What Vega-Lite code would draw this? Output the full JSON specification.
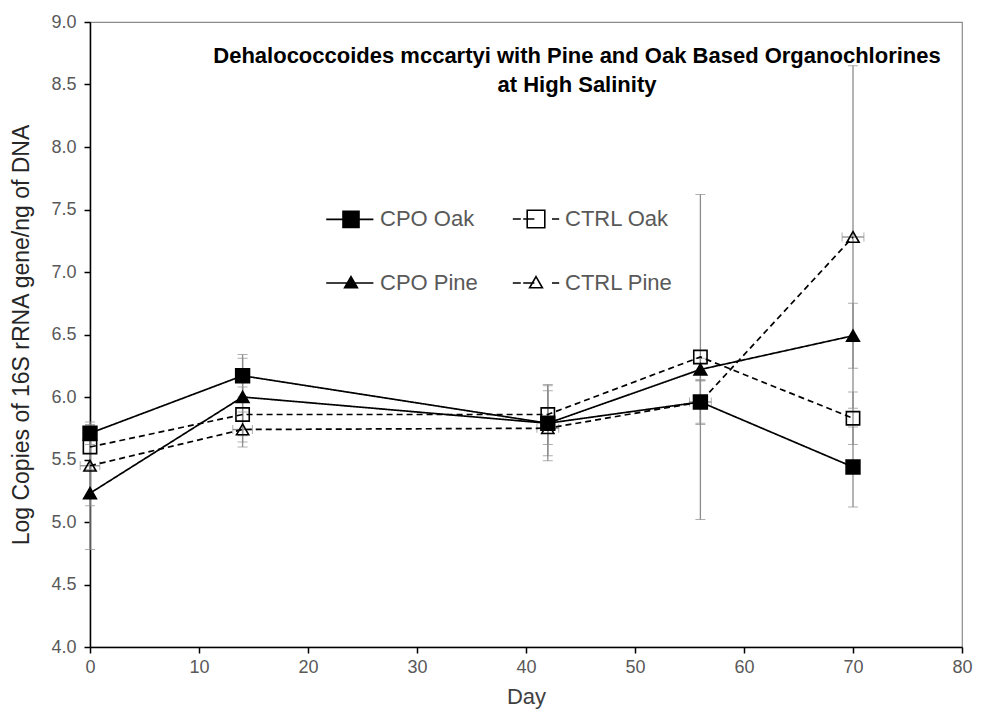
{
  "$schema": "https://vega.github.io/schema/vega-lite/v6.json",
  "width": 872,
  "height": 625,
  "autosize": "none",
  "padding": {"left": 90, "top": 22, "right": 19, "bottom": 70},
  "background": "white",
  "config": {
    "font": "Liberation Sans",
    "view": {"stroke": "#8c8c8c", "strokeWidth": 1.2}
  },
  "title": {
    "text": ["Dehalococcoides mccartyi with Pine and Oak Based Organochlorines", "at High Salinity"],
    "font": "Liberation Sans",
    "fontSize": 22,
    "fontWeight": "bold",
    "color": "#000000",
    "anchor": "middle",
    "baseline": "top",
    "lineHeight": 29,
    "dx": 51,
    "offset": -84
  },
  "data": {
    "values": [
      {"series": "CPO Oak", "day": 0, "value": 5.71, "lo": 5.62, "hi": 5.80},
      {"series": "CPO Oak", "day": 14, "value": 6.17, "lo": 6.00, "hi": 6.34},
      {"series": "CPO Oak", "day": 42, "value": 5.79, "lo": 5.49, "hi": 6.09},
      {"series": "CPO Oak", "day": 56, "value": 5.96, "lo": 5.78, "hi": 6.14},
      {"series": "CPO Oak", "day": 70, "value": 5.44, "lo": 5.12, "hi": 5.76},
      {"series": "CTRL Oak", "day": 0, "value": 5.60, "lo": 5.42, "hi": 5.78},
      {"series": "CTRL Oak", "day": 14, "value": 5.86, "lo": 5.64, "hi": 6.08},
      {"series": "CTRL Oak", "day": 42, "value": 5.86, "lo": 5.62, "hi": 6.10},
      {"series": "CTRL Oak", "day": 56, "value": 6.32, "lo": 5.02, "hi": 7.62},
      {"series": "CTRL Oak", "day": 70, "value": 5.83, "lo": 5.62, "hi": 6.04},
      {"series": "CPO Pine", "day": 0, "value": 5.23, "lo": 4.78, "hi": 5.68},
      {"series": "CPO Pine", "day": 14, "value": 6.00, "lo": 5.69, "hi": 6.31},
      {"series": "CPO Pine", "day": 42, "value": 5.79, "lo": 5.53, "hi": 6.05},
      {"series": "CPO Pine", "day": 56, "value": 6.22, "lo": 6.13, "hi": 6.31},
      {"series": "CPO Pine", "day": 70, "value": 6.49, "lo": 6.23, "hi": 6.75},
      {"series": "CTRL Pine", "day": 0, "value": 5.45, "lo": 5.13, "hi": 5.77, "dlo": -0.9, "dhi": 0.9},
      {"series": "CTRL Pine", "day": 14, "value": 5.74, "lo": 5.60, "hi": 5.88, "dlo": 13.1, "dhi": 14.9},
      {"series": "CTRL Pine", "day": 42, "value": 5.75, "lo": 5.71, "hi": 5.79, "dlo": 41.0, "dhi": 43.0},
      {"series": "CTRL Pine", "day": 56, "value": 5.96, "lo": 5.79, "hi": 6.13, "dlo": 55.0, "dhi": 57.0},
      {"series": "CTRL Pine", "day": 70, "value": 7.28, "lo": 5.91, "hi": 8.65, "dlo": 69.0, "dhi": 71.0}
    ]
  },
  "layer": [
    {
      "mark": {"type": "errorbar", "ticks": {"size": 10, "color": "#8c8c8c", "strokeWidth": 1.3}, "rule": {"color": "#8c8c8c", "strokeWidth": 1.3}},
      "encoding": {
        "x": {"field": "day", "type": "quantitative"},
        "y": {"field": "lo", "type": "quantitative"},
        "y2": {"field": "hi"}
      }
    },
    {
      "transform": [{"filter": "isValid(datum.dlo)"}],
      "mark": {"type": "errorbar", "ticks": {"size": 9, "color": "#8c8c8c", "strokeWidth": 1.3}, "rule": {"color": "#8c8c8c", "strokeWidth": 1.3}},
      "encoding": {
        "y": {"field": "value", "type": "quantitative"},
        "x": {"field": "dlo", "type": "quantitative"},
        "x2": {"field": "dhi"}
      }
    },
    {
      "mark": {"type": "line", "color": "black", "strokeWidth": 1.7},
      "encoding": {
        "x": {"field": "day", "type": "quantitative"},
        "y": {"field": "value", "type": "quantitative"},
        "strokeDash": {
          "field": "series", "type": "nominal",
          "scale": {"domain": ["CPO Oak", "CTRL Oak", "CPO Pine", "CTRL Pine"], "range": [[1, 0], [6, 4], [1, 0], [6, 4]]},
          "legend": null
        }
      }
    },
    {
      "mark": {"type": "point", "filled": true, "stroke": "black", "strokeWidth": 1.6, "opacity": 1},
      "encoding": {
        "x": {"field": "day", "type": "quantitative"},
        "y": {"field": "value", "type": "quantitative"},
        "shape": {
          "field": "series", "type": "nominal",
          "scale": {"domain": ["CPO Oak", "CTRL Oak", "CPO Pine", "CTRL Pine"], "range": ["square", "square", "triangle-up", "triangle-up"]},
          "legend": null
        },
        "size": {
          "field": "series", "type": "nominal",
          "scale": {"domain": ["CPO Oak", "CTRL Oak", "CPO Pine", "CTRL Pine"], "range": [190, 150, 175, 150]},
          "legend": null
        },
        "fill": {
          "field": "series", "type": "nominal",
          "scale": {"domain": ["CPO Oak", "CTRL Oak", "CPO Pine", "CTRL Pine"], "range": ["black", "transparent", "black", "transparent"]},
          "legend": null
        }
      }
    },
    {
      "mark": {"type": "point", "filled": true, "stroke": "black", "strokeWidth": 1.6, "opacity": 0},
      "encoding": {
        "x": {"field": "day", "type": "quantitative"},
        "y": {"field": "value", "type": "quantitative"},
        "shape": {
          "field": "series", "type": "nominal",
          "scale": {
            "domain": ["CPO Oak", "CTRL Oak", "CPO Pine", "CTRL Pine"],
            "range": [
              "M-3.1,0H2.8M-1,-1H1V1H-1Z",
              "M-2.9,0H-1.9M-1.6,0H-0.2M2.0,0H2.9M-1.1,-1.1H1.1V1.1H-1.1Z",
              "M-3.1,0H2.8M0,-0.8L0.8,0.6H-0.8Z",
              "M-2.9,0H-1.9M-1.6,0H-0.2M2.0,0H2.9M0,-0.8L0.8,0.6H-0.8Z"
            ]
          },
          "legend": {
            "orient": "none",
            "legendX": 250,
            "legendY": 186,
            "title": null,
            "direction": "horizontal",
            "columns": 2,
            "columnPadding": 31,
            "rowPadding": 41,
            "symbolSize": 256,
            "symbolOpacity": 1,
            "symbolStrokeColor": "black",
            "symbolStrokeWidth": 1.6,
            "labelFont": "Liberation Sans",
            "labelFontSize": 22,
            "labelColor": "#595959",
            "labelOffset": 18,
            "labelLimit": 300,
            "encode": {"symbols": {"update": {"stroke": {"value": "black"}, "strokeWidth": {"value": 1.6}, "opacity": {"value": 1}}}}
          }
        },
        "fill": {
          "field": "series", "type": "nominal",
          "scale": {"domain": ["CPO Oak", "CTRL Oak", "CPO Pine", "CTRL Pine"], "range": ["black", "white", "black", "white"]},
          "legend": {
            "orient": "none",
            "legendX": 250,
            "legendY": 186,
            "title": null,
            "direction": "horizontal",
            "columns": 2,
            "columnPadding": 31,
            "rowPadding": 41,
            "symbolSize": 256,
            "symbolOpacity": 1,
            "symbolStrokeColor": "black",
            "symbolStrokeWidth": 1.6,
            "labelFont": "Liberation Sans",
            "labelFontSize": 22,
            "labelColor": "#595959",
            "labelOffset": 18,
            "labelLimit": 300,
            "encode": {"symbols": {"update": {"stroke": {"value": "black"}, "strokeWidth": {"value": 1.6}, "opacity": {"value": 1}}}}
          }
        }
      }
    }
  ],
  "resolve": {"scale": {"shape": "independent", "fill": "independent"}, "legend": {"shape": "independent", "fill": "independent"}},
  "encoding": {
    "x": {
      "field": "day", "type": "quantitative",
      "scale": {"domain": [0, 80], "nice": false, "zero": false},
      "axis": {
        "title": "Day", "values": [0, 10, 20, 30, 40, 50, 60, 70, 80], "labelFlush": false,
        "grid": false, "domainColor": "black", "domainWidth": 1.5, "tickColor": "black", "tickWidth": 1.5, "tickSize": 6,
        "labelFont": "Liberation Sans", "labelFontSize": 18, "labelColor": "#595959", "labelPadding": 5,
        "titleFont": "Liberation Sans", "titleFontSize": 22, "titleFontWeight": "normal", "titleColor": "#404040", "titlePadding": 10
      }
    },
    "y": {
      "field": "value", "type": "quantitative",
      "scale": {"domain": [4, 9], "nice": false, "zero": false},
      "axis": {
        "title": "Log Copies of 16S rRNA gene/ng of DNA", "values": [4, 4.5, 5, 5.5, 6, 6.5, 7, 7.5, 8, 8.5, 9], "format": ".1f", "labelFlush": false,
        "grid": false, "domainColor": "black", "domainWidth": 1.5, "tickColor": "black", "tickWidth": 1.5, "tickSize": 6,
        "labelFont": "Liberation Sans", "labelFontSize": 18, "labelColor": "#595959", "labelPadding": 8,
        "titleFont": "Liberation Sans", "titleFontSize": 23, "titleFontWeight": "normal", "titleColor": "#262626", "titlePadding": 17
      }
    }
  }
}
